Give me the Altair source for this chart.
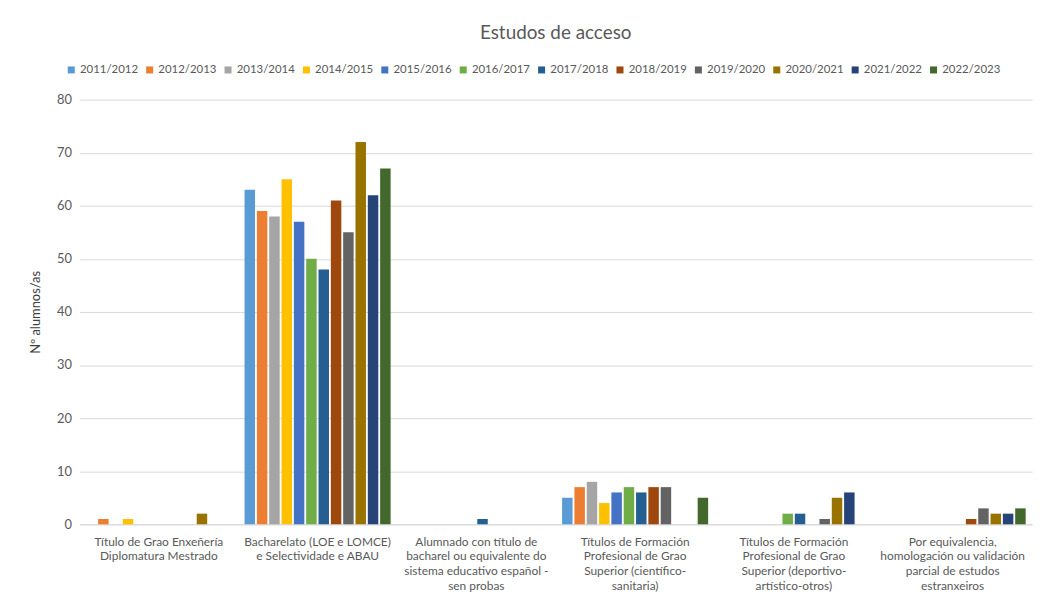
import altair as alt
import pandas as pd

categories = [
    "Título de Grao Enxeñería|Diplomatura Mestrado",
    "Bacharelato (LOE e LOMCE)|e Selectividade e ABAU",
    "Alumnado con título de|bacharel ou equivalente do|sistema educativo español -|sen probas",
    "Títulos de Formación|Profesional de Grao|Superior (científico-|sanitaria)",
    "Títulos de Formación|Profesional de Grao|Superior (deportivo-|artístico-otros)",
    "Por equivalencia,|homologación ou validación|parcial de estudos|estranxeiros",
]
years = ["2011/2012", "2012/2013", "2013/2014", "2014/2015", "2015/2016", "2016/2017",
         "2017/2018", "2018/2019", "2019/2020", "2020/2021", "2021/2022", "2022/2023"]
colors = ["#5B9BD5", "#ED7D31", "#A5A5A5", "#FFC000", "#4472C4", "#70AD47",
          "#255E91", "#9E480E", "#636363", "#997300", "#264478", "#43682B"]

# values per category, one per year
v_grao = [0, 1, 0, 1, 0, 0, 0, 0, 0, 2, 0, 0]
v_bach = [63, 59, 58, 65, 57, 50, 48, 61, 55, 72, 62, 67]
v_sen_probas = [0, 0, 0, 0, 0, 0, 1, 0, 0, 0, 0, 0]
v_fp_san = [5, 7, 8, 4, 6, 7, 6, 7, 7, 0, 0, 5]
v_fp_dep = [0, 0, 0, 0, 0, 2, 2, 0, 1, 5, 6, 0]
v_equiv = [0, 0, 0, 0, 0, 0, 0, 1, 3, 2, 2, 3]
values = [v_grao, v_bach, v_sen_probas, v_fp_san, v_fp_dep, v_equiv]

rows = []
for c, vals in zip(categories, values):
    for y, v in zip(years, vals):
        rows.append({"cat": c, "year": y, "value": v})
df = pd.DataFrame(rows)

FONT = "Lato"
GREY = "#595959"

chart = alt.Chart(df).mark_bar().encode(
    x=alt.X("cat:N", sort=categories, title=None,
            scale=alt.Scale(paddingInner=0.08, paddingOuter=0.04),
            axis=alt.Axis(labelExpr="split(datum.label, '|')", labelAngle=0,
                          labelFontSize=12, labelColor=GREY, labelFont=FONT,
                          labelPadding=12, labelLineHeight=15, labelLimit=300,
                          ticks=False, domainColor="#D9D9D9", domainWidth=1)),
    xOffset=alt.XOffset("year:N", sort=years, scale=alt.Scale(paddingInner=0.15)),
    y=alt.Y("value:Q", title="Nº alumnos/as",
            scale=alt.Scale(domain=[0, 80]),
            axis=alt.Axis(values=list(range(0, 81, 10)), ticks=False, domain=False,
                          gridColor="#D9D9D9", labelFontSize=13, labelColor=GREY,
                          labelFont=FONT, labelPadding=8,
                          titleFont=FONT, titleFontSize=13, titleColor="#404040",
                          titleFontWeight="normal", titlePadding=14)),
    color=alt.Color("year:N", sort=years,
                    scale=alt.Scale(domain=years, range=colors),
                    legend=alt.Legend(title=None, orient="none", legendX=-14, legendY=-36,
                                      direction="horizontal", columns=12,
                                      symbolType="square", symbolSize=50,
                                      symbolStrokeWidth=0,
                                      labelFont=FONT, labelFontSize=11.5,
                                      labelColor=GREY, columnPadding=5,
                                      labelOffset=3)),
).properties(
    width=960, height=428,
    title=alt.TitleParams("Estudos de acceso", font=FONT, fontSize=19,
                          fontWeight="normal", color=GREY, anchor="middle",
                          frame="group", offset=21),
    autosize="none",
    padding={"left": 72, "top": 90, "right": 3, "bottom": 75},
).configure_view(stroke=None)

chart.save("out.html", embed_options={"renderer": "svg", "actions": False})
